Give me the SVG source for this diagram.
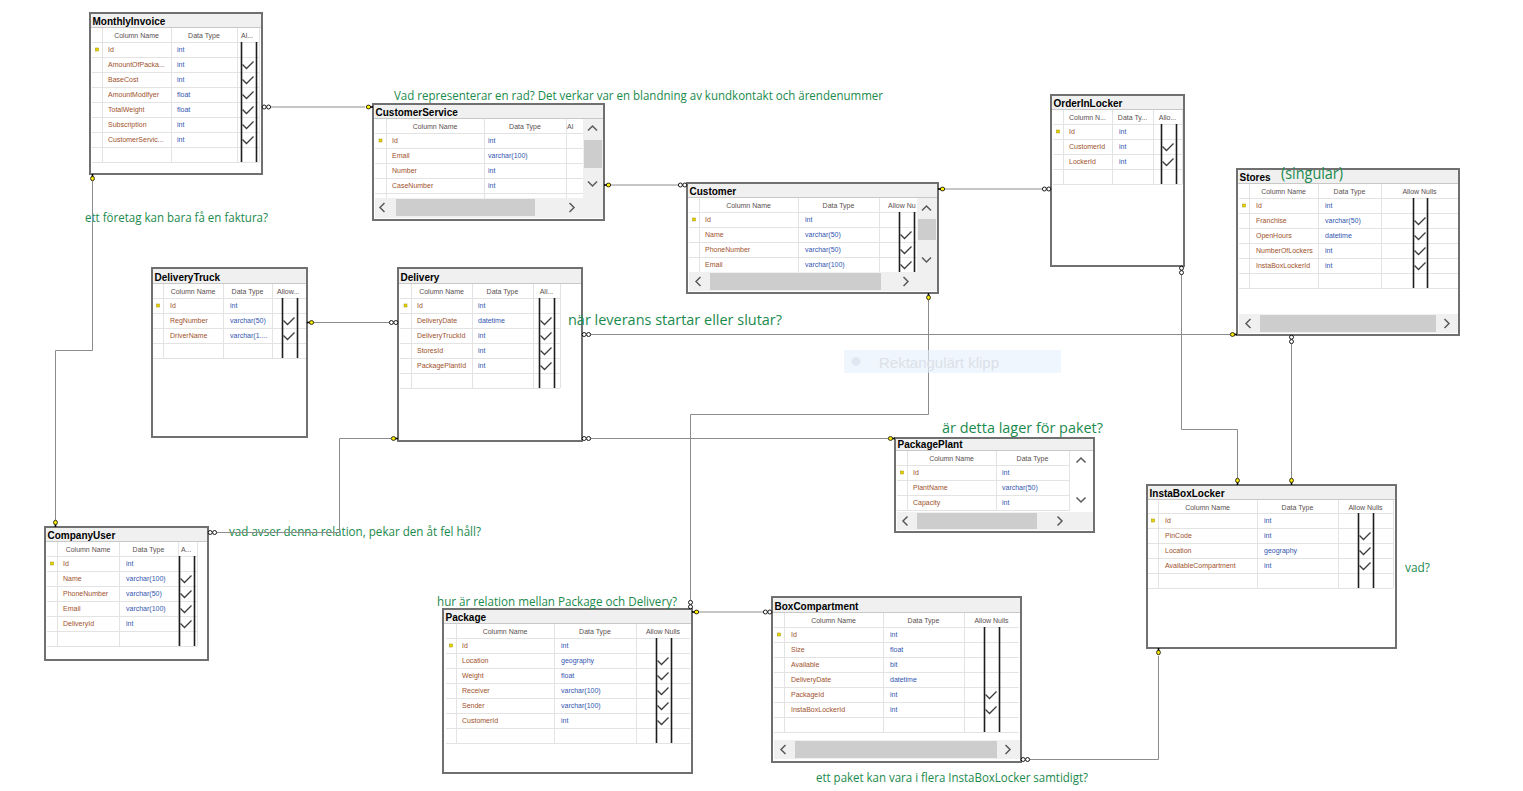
<svg xmlns="http://www.w3.org/2000/svg" width="1523" height="791" viewBox="0 0 1523 791">
<style>
text{font-family:"Liberation Sans",Arial,sans-serif}
.tb{fill:#fff;stroke:#707070;stroke-width:2}
.tbar{fill:#f0f0f0}
.tsep{stroke:#c8c8c8;stroke-width:1}
.tn{font-weight:bold;font-size:10px;fill:#000}
.hd{font-size:7px;fill:#5a5050;text-anchor:middle}
.hl{font-size:7px;fill:#5a5050}
.cn{font-size:7px;fill:#a0522d}
.dt{font-size:7px;fill:#3355b0}
.gl{stroke:#e3e3e3;stroke-width:1;fill:none}
.nl{stroke:#1e1e1e;stroke-width:1.6}
.ck{fill:none;stroke:#3c3c3c;stroke-width:1.3}
.sb{fill:#f0f0f0}
.th{fill:#cdcdcd}
.ar{fill:none;stroke:#5a5a5a;stroke-width:1.5}
.cx{fill:none;stroke:#8c8c8c;stroke-width:1}
.cm{font-family:"Open Sans","Noto Sans","Liberation Sans",sans-serif;fill:#1b8a4d}
.pk{fill:#e8d400;stroke:#a09000;stroke-width:.5}
</style>
<defs>
<path id="ck" class="ck" d="M1.5,7.5L5.5,11.5L12.5,4.5"/>
<rect id="pk" class="pk" x="-1.5" y="-1.5" width="3" height="3"/>
<g id="inf" fill="#fff" stroke="#000" stroke-width=".9"><circle cx="-2.2" cy="0" r="2"/><circle cx="2.2" cy="0" r="2"/></g>
<g id="key"><line x1="1.5" y1="0" x2="4.5" y2="0" stroke="#000" stroke-width="1.6"/><ellipse cx="0" cy="0" rx="2.2" ry="1.9" fill="#ffee00" stroke="#000" stroke-width=".8"/></g>
<polyline id="cu" class="ar" points="-4.5,2.5 0,-2 4.5,2.5"/>
<polyline id="cd" class="ar" points="-4.5,-2.5 0,2 4.5,-2.5"/>
<polyline id="cl" class="ar" points="2.5,-4.5 -2,0 2.5,4.5"/>
<polyline id="cr" class="ar" points="-2.5,-4.5 2,0 -2.5,4.5"/>
</defs>
<rect x="0" y="0" width="1523" height="791" fill="#fff"/>

<!-- MonthlyInvoice -->
<g id="MonthlyInvoice">
<rect class="tb" x="90" y="13" width="172" height="161"/>
<rect class="tbar" x="91" y="14" width="170" height="13"/>
<line class="tsep" x1="91" y1="27.5" x2="261" y2="27.5"/>
<text class="tn" x="92.5" y="25">MonthlyInvoice</text>
<path class="gl" d="M92,42.5H259M92,57.5H259M92,72.5H259M92,87.5H259M92,102.5H259M92,117.5H259M92,132.5H259M92,147.5H259M92,162.5H259M102.5,28V162M171.5,28V162M237.5,28V162M259.5,28V162"/>
<text class="hd" x="136.5" y="38">Column Name</text>
<text class="hd" x="204" y="38">Data Type</text>
<text class="hl" x="241" y="38">Al...</text>
<use href="#pk" x="97" y="49.5"/>
<text class="cn" x="108" y="52">Id</text><text class="dt" x="177" y="52">int</text>
<text class="cn" x="108" y="67">AmountOfPacka...</text><text class="dt" x="177" y="67">int</text>
<text class="cn" x="108" y="82">BaseCost</text><text class="dt" x="177" y="82">int</text>
<text class="cn" x="108" y="97">AmountModifyer</text><text class="dt" x="177" y="97">float</text>
<text class="cn" x="108" y="112">TotalWeight</text><text class="dt" x="177" y="112">float</text>
<text class="cn" x="108" y="127">Subscription</text><text class="dt" x="177" y="127">int</text>
<text class="cn" x="108" y="142">CustomerServic...</text><text class="dt" x="177" y="142">int</text>
<line class="nl" x1="241.5" y1="42" x2="241.5" y2="162"/>
<line class="nl" x1="256.5" y1="42" x2="256.5" y2="162"/>
<use href="#ck" x="241" y="57"/><use href="#ck" x="241" y="72"/><use href="#ck" x="241" y="87"/><use href="#ck" x="241" y="102"/><use href="#ck" x="241" y="117"/><use href="#ck" x="241" y="132"/>
</g>

<!-- CustomerService -->
<g id="CustomerService">
<rect class="tb" x="373" y="104" width="231" height="116"/>
<rect class="tbar" x="374" y="105" width="229" height="13"/>
<line class="tsep" x1="374" y1="118.5" x2="603" y2="118.5"/>
<text class="tn" x="375.5" y="116">CustomerService</text>
<path class="gl" d="M375,133.5H583M375,148.5H583M375,163.5H583M375,178.5H583M375,193.5H583M386.5,119V198M484.5,119V198M566.5,119V198"/>
<text class="hd" x="435" y="129">Column Name</text>
<text class="hd" x="525" y="129">Data Type</text>
<text class="hl" x="567" y="129">Al</text>
<use href="#pk" x="380.5" y="140.5"/>
<text class="cn" x="392" y="143">Id</text><text class="dt" x="488" y="143">int</text>
<text class="cn" x="392" y="158">Email</text><text class="dt" x="488" y="158">varchar(100)</text>
<text class="cn" x="392" y="173">Number</text><text class="dt" x="488" y="173">int</text>
<text class="cn" x="392" y="188">CaseNumber</text><text class="dt" x="488" y="188">int</text>
<rect class="sb" x="583" y="119" width="20" height="80"/>
<rect class="th" x="584" y="140" width="18" height="28"/>
<use href="#cu" x="592.5" y="128"/><use href="#cd" x="592.5" y="184"/>
<rect class="sb" x="375" y="198" width="228" height="20"/>
<rect class="th" x="396" y="199" width="139" height="17"/>
<use href="#cl" x="382" y="207.5"/><use href="#cr" x="572" y="207.5"/>
</g>

<!-- Customer -->
<g id="Customer">
<rect class="tb" x="687" y="183" width="251" height="110"/>
<rect class="tbar" x="688" y="184" width="249" height="13"/>
<line class="tsep" x1="688" y1="197.5" x2="937" y2="197.5"/>
<text class="tn" x="689.5" y="195">Customer</text>
<path class="gl" d="M689,212.5H917M689,227.5H917M689,242.5H917M689,257.5H917M699.5,198V272M798.5,198V272M879.5,198V272"/>
<text class="hd" x="748.5" y="208">Column Name</text>
<text class="hd" x="838.5" y="208">Data Type</text>
<text class="hl" x="888" y="208">Allow Nu</text>
<use href="#pk" x="694" y="219.5"/>
<text class="cn" x="705" y="222">Id</text><text class="dt" x="805" y="222">int</text>
<text class="cn" x="705" y="237">Name</text><text class="dt" x="805" y="237">varchar(50)</text>
<text class="cn" x="705" y="252">PhoneNumber</text><text class="dt" x="805" y="252">varchar(50)</text>
<text class="cn" x="705" y="267">Email</text><text class="dt" x="805" y="267">varchar(100)</text>
<line class="nl" x1="899.5" y1="212" x2="899.5" y2="272"/>
<line class="nl" x1="914.5" y1="212" x2="914.5" y2="272"/>
<use href="#ck" x="899" y="227"/><use href="#ck" x="899" y="242"/><use href="#ck" x="899" y="257"/>
<rect class="sb" x="917" y="198" width="20" height="74"/>
<rect class="th" x="918" y="219" width="18" height="21"/>
<use href="#cu" x="926.5" y="208"/><use href="#cd" x="926.5" y="260"/>
<rect class="sb" x="689" y="272" width="248" height="19"/>
<rect class="th" x="710" y="273" width="171" height="17"/>
<use href="#cl" x="698" y="281.5"/><use href="#cr" x="906" y="281.5"/>
</g>

<!-- OrderInLocker -->
<g id="OrderInLocker">
<rect class="tb" x="1051" y="95" width="133" height="171"/>
<rect class="tbar" x="1052" y="96" width="131" height="13"/>
<line class="tsep" x1="1052" y1="109.5" x2="1183" y2="109.5"/>
<text class="tn" x="1053.5" y="107">OrderInLocker</text>
<path class="gl" d="M1053,124.5H1182M1053,139.5H1182M1053,154.5H1182M1053,169.5H1182M1053,184.5H1182M1063.5,110V184M1112.5,110V184M1153.5,110V184M1182.5,110V184"/>
<text class="hd" x="1087.5" y="120">Column N...</text>
<text class="hd" x="1132.5" y="120">Data Ty...</text>
<text class="hd" x="1167.5" y="120">Allo...</text>
<use href="#pk" x="1058" y="131.5"/>
<text class="cn" x="1069" y="134">Id</text><text class="dt" x="1119" y="134">int</text>
<text class="cn" x="1069" y="149">CustomerId</text><text class="dt" x="1119" y="149">int</text>
<text class="cn" x="1069" y="164">LockerId</text><text class="dt" x="1119" y="164">int</text>
<line class="nl" x1="1161.5" y1="124" x2="1161.5" y2="184"/>
<line class="nl" x1="1176.5" y1="124" x2="1176.5" y2="184"/>
<use href="#ck" x="1161" y="139"/><use href="#ck" x="1161" y="154"/>
</g>

<!-- Stores -->
<g id="Stores">
<rect class="tb" x="1237" y="169" width="222" height="166"/>
<rect class="tbar" x="1238" y="170" width="220" height="13"/>
<line class="tsep" x1="1238" y1="183.5" x2="1458" y2="183.5"/>
<text class="tn" x="1239.5" y="181">Stores</text>
<path class="gl" d="M1239,198.5H1458M1239,213.5H1458M1239,228.5H1458M1239,243.5H1458M1239,258.5H1458M1239,273.5H1458M1239,288.5H1458M1249.5,184V288M1318.5,184V288M1381.5,184V288"/>
<text class="hd" x="1283.5" y="194">Column Name</text>
<text class="hd" x="1349.5" y="194">Data Type</text>
<text class="hd" x="1419.5" y="194">Allow Nulls</text>
<use href="#pk" x="1244" y="205.5"/>
<text class="cn" x="1256" y="208">Id</text><text class="dt" x="1325" y="208">int</text>
<text class="cn" x="1256" y="223">Franchise</text><text class="dt" x="1325" y="223">varchar(50)</text>
<text class="cn" x="1256" y="238">OpenHours</text><text class="dt" x="1325" y="238">datetime</text>
<text class="cn" x="1256" y="253">NumberOfLockers</text><text class="dt" x="1325" y="253">int</text>
<text class="cn" x="1256" y="268">InstaBoxLockerId</text><text class="dt" x="1325" y="268">int</text>
<line class="nl" x1="1413.5" y1="198" x2="1413.5" y2="288"/>
<line class="nl" x1="1427.5" y1="198" x2="1427.5" y2="288"/>
<use href="#ck" x="1413" y="213"/><use href="#ck" x="1413" y="228"/><use href="#ck" x="1413" y="243"/><use href="#ck" x="1413" y="258"/>
<rect class="sb" x="1239" y="314" width="219" height="19"/>
<rect class="th" x="1260" y="315" width="176" height="17"/>
<use href="#cl" x="1248" y="323.5"/><use href="#cr" x="1447" y="323.5"/>
</g>

<!-- DeliveryTruck -->
<g id="DeliveryTruck">
<rect class="tb" x="152" y="268" width="155" height="169"/>
<rect class="tbar" x="153" y="269" width="153" height="14"/>
<line class="tsep" x1="153" y1="283.5" x2="306" y2="283.5"/>
<text class="tn" x="154.5" y="281">DeliveryTruck</text>
<path class="gl" d="M153,298.5H306M153,313.5H306M153,328.5H306M153,343.5H306M153,358.5H306M163.5,284V358M223.5,284V358M272.5,284V358"/>
<text class="hd" x="193" y="294">Column Name</text>
<text class="hd" x="247.5" y="294">Data Type</text>
<text class="hl" x="277" y="294">Allow...</text>
<use href="#pk" x="158" y="305.5"/>
<text class="cn" x="170" y="308">Id</text><text class="dt" x="230" y="308">int</text>
<text class="cn" x="170" y="323">RegNumber</text><text class="dt" x="230" y="323">varchar(50)</text>
<text class="cn" x="170" y="338">DriverName</text><text class="dt" x="230" y="338">varchar(1....</text>
<line class="nl" x1="282.5" y1="298" x2="282.5" y2="358"/>
<line class="nl" x1="297.5" y1="298" x2="297.5" y2="358"/>
<use href="#ck" x="282" y="313"/><use href="#ck" x="282" y="328"/>
</g>

<!-- Delivery -->
<g id="Delivery">
<rect class="tb" x="398" y="268" width="184" height="173"/>
<rect class="tbar" x="399" y="269" width="182" height="14"/>
<line class="tsep" x1="399" y1="283.5" x2="581" y2="283.5"/>
<text class="tn" x="400.5" y="281">Delivery</text>
<path class="gl" d="M400,298.5H560M400,313.5H560M400,328.5H560M400,343.5H560M400,358.5H560M400,373.5H560M400,388.5H560M411.5,284V388M472.5,284V388M533.5,284V388M560.5,284V388"/>
<text class="hd" x="441.5" y="294">Column Name</text>
<text class="hd" x="502.5" y="294">Data Type</text>
<text class="hd" x="546.5" y="294">All...</text>
<use href="#pk" x="405.5" y="305.5"/>
<text class="cn" x="417" y="308">Id</text><text class="dt" x="478" y="308">int</text>
<text class="cn" x="417" y="323">DeliveryDate</text><text class="dt" x="478" y="323">datetime</text>
<text class="cn" x="417" y="338">DeliveryTruckId</text><text class="dt" x="478" y="338">int</text>
<text class="cn" x="417" y="353">StoresId</text><text class="dt" x="478" y="353">int</text>
<text class="cn" x="417" y="368">PackagePlantId</text><text class="dt" x="478" y="368">int</text>
<line class="nl" x1="539.5" y1="298" x2="539.5" y2="388"/>
<line class="nl" x1="554.5" y1="298" x2="554.5" y2="388"/>
<use href="#ck" x="539" y="313"/><use href="#ck" x="539" y="328"/><use href="#ck" x="539" y="343"/><use href="#ck" x="539" y="358"/>
</g>

<!-- PackagePlant -->
<g id="PackagePlant">
<rect class="tb" x="895" y="438" width="199" height="94"/>
<rect class="tbar" x="896" y="439" width="197" height="11"/>
<line class="tsep" x1="896" y1="450.5" x2="1093" y2="450.5"/>
<text class="tn" x="897.5" y="448">PackagePlant</text>
<path class="gl" d="M897,465.5H1069M897,480.5H1069M897,495.5H1069M897,510.5H1069M907.5,451V511M996.5,451V511M1069.5,451V511"/>
<text class="hd" x="951.5" y="461">Column Name</text>
<text class="hd" x="1032.5" y="461">Data Type</text>
<use href="#pk" x="902" y="472.5"/>
<text class="cn" x="913" y="475">Id</text><text class="dt" x="1002" y="475">int</text>
<text class="cn" x="913" y="490">PlantName</text><text class="dt" x="1002" y="490">varchar(50)</text>
<text class="cn" x="913" y="505">Capacity</text><text class="dt" x="1002" y="505">int</text>
<use href="#cu" x="1081" y="460"/><use href="#cd" x="1081" y="500"/>
<rect class="sb" x="897" y="512" width="196" height="18"/>
<rect class="th" x="917" y="513" width="120" height="16"/>
<use href="#cl" x="905" y="521"/><use href="#cr" x="1060" y="521"/>
</g>

<!-- InstaBoxLocker -->
<g id="InstaBoxLocker">
<rect class="tb" x="1147" y="485" width="249" height="163"/>
<rect class="tbar" x="1148" y="486" width="247" height="13"/>
<line class="tsep" x1="1148" y1="499.5" x2="1395" y2="499.5"/>
<text class="tn" x="1149.5" y="497">InstaBoxLocker</text>
<path class="gl" d="M1148,513.5H1393M1148,528.5H1393M1148,543.5H1393M1148,558.5H1393M1148,573.5H1393M1148,588.5H1393M1158.5,500V588M1257.5,500V588M1338.5,500V588M1393.5,500V588"/>
<text class="hd" x="1207.5" y="509.5">Column Name</text>
<text class="hd" x="1297.5" y="509.5">Data Type</text>
<text class="hd" x="1365.5" y="509.5">Allow Nulls</text>
<use href="#pk" x="1153" y="520.5"/>
<text class="cn" x="1165" y="523">Id</text><text class="dt" x="1264" y="523">int</text>
<text class="cn" x="1165" y="538">PinCode</text><text class="dt" x="1264" y="538">int</text>
<text class="cn" x="1165" y="553">Location</text><text class="dt" x="1264" y="553">geography</text>
<text class="cn" x="1165" y="568">AvailableCompartment</text><text class="dt" x="1264" y="568">int</text>
<line class="nl" x1="1358.5" y1="513" x2="1358.5" y2="588"/>
<line class="nl" x1="1373.5" y1="513" x2="1373.5" y2="588"/>
<use href="#ck" x="1358" y="528"/><use href="#ck" x="1358" y="543"/><use href="#ck" x="1358" y="558"/>
</g>

<!-- CompanyUser -->
<g id="CompanyUser">
<rect class="tb" x="45" y="527" width="163" height="133"/>
<rect class="tbar" x="46" y="528" width="161" height="13"/>
<line class="tsep" x1="46" y1="541.5" x2="207" y2="541.5"/>
<text class="tn" x="47.5" y="539">CompanyUser</text>
<path class="gl" d="M47,556.5H197M47,571.5H197M47,586.5H197M47,601.5H197M47,616.5H197M47,631.5H197M47,646.5H197M57.5,542V646M119.5,542V646M178.5,542V646M197.5,542V646"/>
<text class="hd" x="88" y="552">Column Name</text>
<text class="hd" x="148.5" y="552">Data Type</text>
<text class="hl" x="181" y="552">A...</text>
<use href="#pk" x="52" y="563.5"/>
<text class="cn" x="63" y="566">Id</text><text class="dt" x="126" y="566">int</text>
<text class="cn" x="63" y="581">Name</text><text class="dt" x="126" y="581">varchar(100)</text>
<text class="cn" x="63" y="596">PhoneNumber</text><text class="dt" x="126" y="596">varchar(50)</text>
<text class="cn" x="63" y="611">Email</text><text class="dt" x="126" y="611">varchar(100)</text>
<text class="cn" x="63" y="626">DeliveryId</text><text class="dt" x="126" y="626">int</text>
<line class="nl" x1="179.5" y1="556" x2="179.5" y2="646"/>
<line class="nl" x1="194.5" y1="556" x2="194.5" y2="646"/>
<use href="#ck" x="179" y="571"/><use href="#ck" x="179" y="586"/><use href="#ck" x="179" y="601"/><use href="#ck" x="179" y="616"/>
</g>

<!-- Package -->
<g id="Package">
<rect class="tb" x="443" y="609" width="249" height="164"/>
<rect class="tbar" x="444" y="610" width="247" height="13"/>
<line class="tsep" x1="444" y1="623.5" x2="691" y2="623.5"/>
<text class="tn" x="445.5" y="621">Package</text>
<path class="gl" d="M446,638.5H690M446,653.5H690M446,668.5H690M446,683.5H690M446,698.5H690M446,713.5H690M446,728.5H690M446,743.5H690M456.5,624V743M554.5,624V743M636.5,624V743"/>
<text class="hd" x="505" y="634">Column Name</text>
<text class="hd" x="595" y="634">Data Type</text>
<text class="hd" x="663" y="634">Allow Nulls</text>
<use href="#pk" x="451" y="645.5"/>
<text class="cn" x="462" y="648">Id</text><text class="dt" x="561" y="648">int</text>
<text class="cn" x="462" y="663">Location</text><text class="dt" x="561" y="663">geography</text>
<text class="cn" x="462" y="678">Weight</text><text class="dt" x="561" y="678">float</text>
<text class="cn" x="462" y="693">Receiver</text><text class="dt" x="561" y="693">varchar(100)</text>
<text class="cn" x="462" y="708">Sender</text><text class="dt" x="561" y="708">varchar(100)</text>
<text class="cn" x="462" y="723">CustomerId</text><text class="dt" x="561" y="723">int</text>
<line class="nl" x1="656.5" y1="638" x2="656.5" y2="743"/>
<line class="nl" x1="671.5" y1="638" x2="671.5" y2="743"/>
<use href="#ck" x="656" y="653"/><use href="#ck" x="656" y="668"/><use href="#ck" x="656" y="683"/><use href="#ck" x="656" y="698"/><use href="#ck" x="656" y="713"/>
</g>

<!-- BoxCompartment -->
<g id="BoxCompartment">
<rect class="tb" x="772" y="597" width="249" height="165"/>
<rect class="tbar" x="773" y="598" width="247" height="14"/>
<line class="tsep" x1="773" y1="612.5" x2="1020" y2="612.5"/>
<text class="tn" x="774.5" y="610">BoxCompartment</text>
<path class="gl" d="M774,627.5H1019M774,642.5H1019M774,657.5H1019M774,672.5H1019M774,687.5H1019M774,702.5H1019M774,717.5H1019M774,732.5H1019M784.5,613V732M883.5,613V732M964.5,613V732"/>
<text class="hd" x="833.5" y="623">Column Name</text>
<text class="hd" x="923.5" y="623">Data Type</text>
<text class="hd" x="991.5" y="623">Allow Nulls</text>
<use href="#pk" x="779" y="634.5"/>
<text class="cn" x="791" y="637">Id</text><text class="dt" x="890" y="637">int</text>
<text class="cn" x="791" y="652">Size</text><text class="dt" x="890" y="652">float</text>
<text class="cn" x="791" y="667">Available</text><text class="dt" x="890" y="667">bit</text>
<text class="cn" x="791" y="682">DeliveryDate</text><text class="dt" x="890" y="682">datetime</text>
<text class="cn" x="791" y="697">PackageId</text><text class="dt" x="890" y="697">int</text>
<text class="cn" x="791" y="712">InstaBoxLockerId</text><text class="dt" x="890" y="712">int</text>
<line class="nl" x1="984.5" y1="627" x2="984.5" y2="732"/>
<line class="nl" x1="999.5" y1="627" x2="999.5" y2="732"/>
<use href="#ck" x="984" y="687"/><use href="#ck" x="984" y="702"/>
<rect class="sb" x="774" y="740" width="246" height="19"/>
<rect class="th" x="795" y="741" width="202" height="17"/>
<use href="#cl" x="783" y="749.5"/><use href="#cr" x="1008" y="749.5"/>
</g>

<!-- notes -->
<g id="notes">
<text class="cm" x="394" y="99.5" font-size="13" textLength="489" lengthAdjust="spacingAndGlyphs">Vad representerar en rad? Det verkar var en blandning av kundkontakt och ärendenummer</text>
<text class="cm" x="85" y="222" font-size="13" textLength="183" lengthAdjust="spacingAndGlyphs">ett företag kan bara få en faktura?</text>
<text class="cm" x="568" y="325" font-size="15" textLength="214" lengthAdjust="spacingAndGlyphs">när leverans startar eller slutar?</text>
<text class="cm" x="942" y="433" font-size="15" textLength="161" lengthAdjust="spacingAndGlyphs">är detta lager för paket?</text>
<text class="cm" x="1281" y="178.5" font-size="16" textLength="62" lengthAdjust="spacingAndGlyphs">(singular)</text>
<text class="cm" x="229" y="536" font-size="13" textLength="252" lengthAdjust="spacingAndGlyphs">vad avser denna relation, pekar den åt fel håll?</text>
<text class="cm" x="437" y="606" font-size="13" textLength="240" lengthAdjust="spacingAndGlyphs">hur är relation mellan Package och Delivery?</text>
<text class="cm" x="1405" y="572" font-size="13" textLength="25" lengthAdjust="spacingAndGlyphs">vad?</text>
<text class="cm" x="816" y="781.5" font-size="13" textLength="272" lengthAdjust="spacingAndGlyphs">ett paket kan vara i flera InstaBoxLocker samtidigt?</text>
</g>

<!-- connectors -->
<g id="connectors">
<path class="cx" d="M271,107H365"/>
<path class="cx" d="M611,185H678"/>
<path class="cx" d="M945,189H1042"/>
<path class="cx" d="M928.5,300V414.5H690.5V600"/>
<path class="cx" d="M699,612H763"/>
<path class="cx" d="M591,334.5H1230"/>
<path class="cx" d="M591,438.5H888"/>
<path class="cx" d="M314,322.5H389"/>
<path class="cx" d="M391,438.5H339.5V532.5H217"/>
<path class="cx" d="M92.5,181V350.5H55.5V520"/>
<path class="cx" d="M1181.5,275V429.5H1237.5V478"/>
<path class="cx" d="M1291.5,344V478"/>
<path class="cx" d="M1030,759.5H1158.5V656"/>
<use href="#inf" x="266.4" y="107"/>
<use href="#key" transform="translate(368.5,107)"/>
<use href="#key" transform="translate(608.5,185) rotate(180)"/>
<use href="#inf" x="682.6" y="185"/>
<use href="#key" transform="translate(942.5,189) rotate(180)"/>
<use href="#inf" x="1046.6" y="189"/>
<use href="#key" transform="translate(928.5,297.5) rotate(-90)"/>
<use href="#inf" transform="translate(690.5,604.6) rotate(90)"/>
<use href="#key" transform="translate(696.5,612) rotate(180)"/>
<use href="#inf" x="767.6" y="612"/>
<use href="#inf" x="586.4" y="334.5"/>
<use href="#key" transform="translate(1232.5,334.5)"/>
<use href="#inf" x="586.4" y="438.5"/>
<use href="#key" transform="translate(890.5,438.5)"/>
<use href="#key" transform="translate(311.5,322.5) rotate(180)"/>
<use href="#inf" x="393.6" y="322.5"/>
<use href="#key" transform="translate(393.5,438.5)"/>
<use href="#inf" x="212.4" y="532.5"/>
<use href="#key" transform="translate(92.5,178.5) rotate(-90)"/>
<use href="#key" transform="translate(55.5,522.5) rotate(90)"/>
<use href="#inf" transform="translate(1181.5,270.4) rotate(90)"/>
<use href="#key" transform="translate(1237.5,480.5) rotate(90)"/>
<use href="#inf" transform="translate(1291.5,339.4) rotate(90)"/>
<use href="#key" transform="translate(1291.5,480.5) rotate(90)"/>
<use href="#inf" x="1025.4" y="759.5"/>
<use href="#key" transform="translate(1158.5,652.5) rotate(-90)"/>
</g>

<!-- faint screen-capture tooltip -->
<g id="snip-tooltip">
<rect x="844" y="350" width="217" height="23" fill="#e6f0fb" fill-opacity="0.6"/>
<circle cx="856" cy="361.5" r="4.5" fill="#e0e9f3"/>
<text x="879" y="367.5" font-family="Open Sans,Noto Sans,sans-serif" font-size="14.5" fill="#dbe1e8" textLength="120" lengthAdjust="spacingAndGlyphs">Rektangulärt klipp</text>
</g>
</svg>
